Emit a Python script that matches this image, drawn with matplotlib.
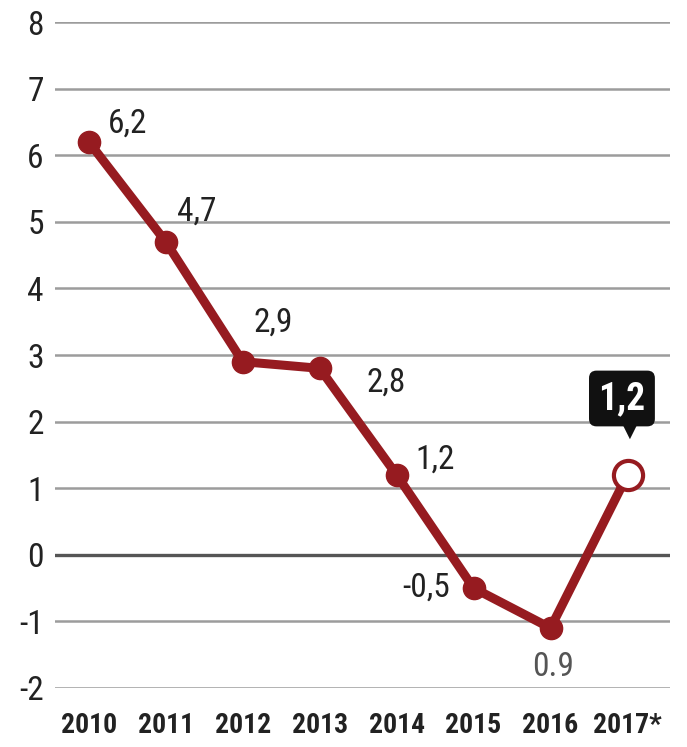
import matplotlib.pyplot as plt

years = [2010, 2011, 2012, 2013, 2014, 2015, 2016, 2017]
year_labels = ["2010", "2011", "2012", "2013", "2014", "2015", "2016", "2017*"]
values = [6.2, 4.7, 2.9, 2.8, 1.2, -0.5, -1.1, 1.2]
point_labels = ["6,2", "4,7", "2,9", "2,8", "1,2", "-0,5", "0.9"]
y_ticks = [-2, -1, 0, 1, 2, 3, 4, 5, 6, 7, 8]

RED = "#961b20"

plt.rcParams['font.family'] = ['Roboto Condensed', 'Liberation Sans Narrow',
                               'Liberation Sans', 'DejaVu Sans']

fig = plt.figure(figsize=(6.87, 7.47), dpi=100)
ax = fig.add_axes([0.08, 0.079, 0.895, 0.8915])

# gridlines
for t in y_ticks:
    if t == 0:
        ax.axhline(t, color="#555555", lw=2.4, zorder=1)
    else:
        ax.axhline(t, color="#9c9c9c", lw=1.8, zorder=1)

ax.plot(years, values, color=RED, lw=6.5, solid_joinstyle="round", zorder=3)
ax.plot(years[:-1], values[:-1], "o", color=RED, ms=16, zorder=4)
ax.plot(years[-1], values[-1], "o", mfc="white", mec=RED, mew=3, ms=21, zorder=5)

# point labels (offsets in points)
offsets = [(28, 13), (22, 22), (22, 28), (48, -10), (28, 11), (-34, 0), (2, -28)]
for i, (lab, off) in enumerate(zip(point_labels, offsets)):
    col = "#555555" if i == 6 else "#222222"
    ax.annotate(lab, (years[i], values[i]), xytext=off, textcoords="offset points",
                ha="center", va="center", fontsize=24, color=col, zorder=6)

# callout for forecast
ax.annotate("1,2", (years[-1], values[-1]), xytext=(-4, 55), textcoords="offset points",
            ha="center", va="center", fontsize=27, fontweight="bold", color="white",
            bbox=dict(boxstyle="round,pad=0.25,rounding_size=0.2", fc="#111111", ec="none"),
            zorder=7)
ax.annotate("\u25bc", (years[-1], values[-1]), xytext=(2, 31), textcoords="offset points",
            ha="center", va="center", fontsize=13, color="#111111",
            family="DejaVu Sans", zorder=7)

ax.set_xlim(2009.56, 2017.55)
ax.set_ylim(-2, 8)
ax.set_yticks(y_ticks)
ax.set_yticklabels([str(t) for t in y_ticks], fontsize=24, color="#222222")
ax.set_xticks(years)
ax.set_xticklabels(year_labels, fontsize=20, fontweight="bold", color="#222222")
ax.tick_params(length=0, axis="y", pad=8)
ax.tick_params(length=0, axis="x", pad=17)
for s in ax.spines.values():
    s.set_visible(False)

fig.savefig("out.png", dpi=100)
